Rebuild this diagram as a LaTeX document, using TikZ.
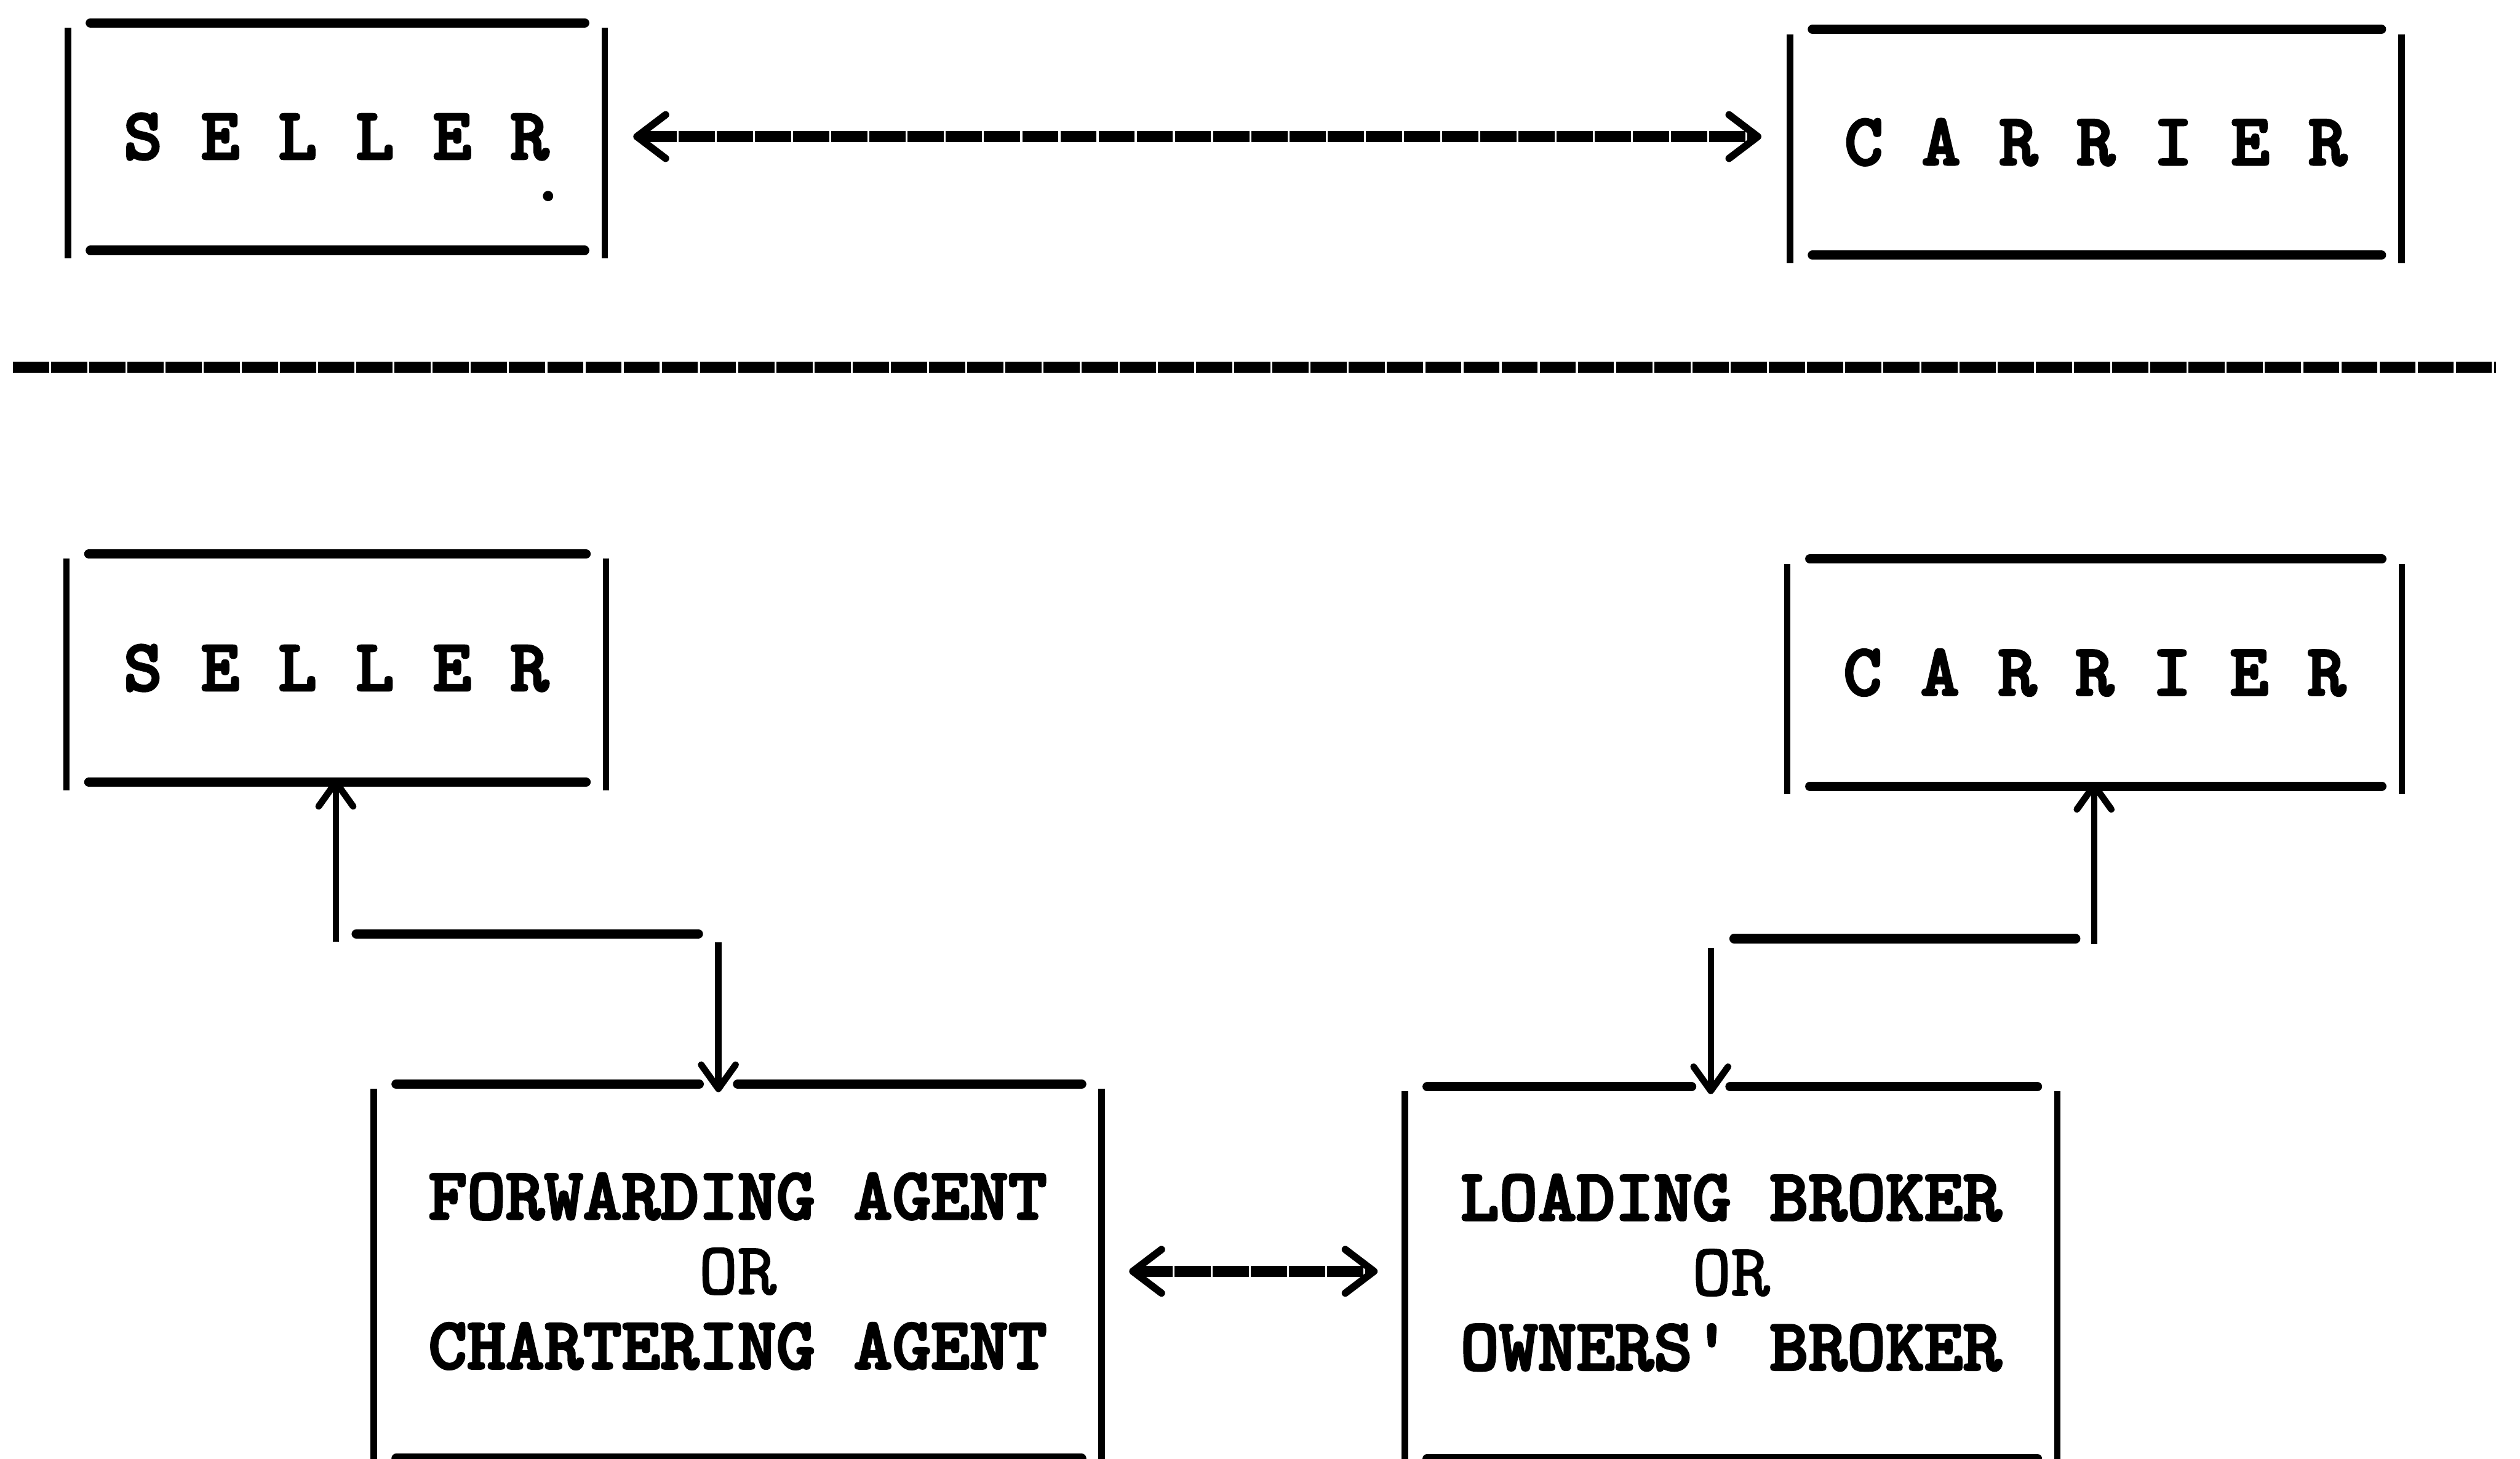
\documentclass[tikz,border=0pt]{standalone}
\usepackage{fontspec}
\newfontfamily\twb{lmmonolt10-bold.otf}[FakeBold=3]
\newfontfamily\twr{lmmono10-regular.otf}[FakeBold=2]
\usetikzlibrary{arrows.meta}
\def\pxu{0.028cm}
\newcommand\tframe[1]{%
  \draw[hbar] ([xshift=14*\pxu]#1.north west) -- ([xshift=-12.5*\pxu]#1.north east);
  \draw[hbar] ([xshift=14*\pxu]#1.south west) -- ([xshift=-12.5*\pxu]#1.south east);
  \draw[vbar] ([yshift=-3*\pxu]#1.north west) -- ([yshift=-5*\pxu]#1.south west);
  \draw[vbar] ([yshift=-3*\pxu]#1.north east) -- ([yshift=-5*\pxu]#1.south east);
}
\newcommand\tframegap[2]{%
  \draw[hbar] ([xshift=14*\pxu]#1.north west) -- ([xshift=-12*\pxu]#1.north -| #2);
  \draw[hbar] ([xshift=12*\pxu]#1.north -| #2) -- ([xshift=-12.5*\pxu]#1.north east);
  \draw[hbar] ([xshift=14*\pxu]#1.south west) -- ([xshift=-12.5*\pxu]#1.south east);
  \draw[vbar] ([yshift=-3*\pxu]#1.north west) -- ([yshift=-5*\pxu]#1.south west);
  \draw[vbar] ([yshift=-3*\pxu]#1.north east) -- ([yshift=-5*\pxu]#1.south east);
}
\begin{document}
\begin{tikzpicture}[x=0.028cm,y=-0.028cm,
  tbox/.style={draw=none, inner sep=0pt, align=center,
    font=\twb\fontsize{36.5pt}{37.1pt}\selectfont},
  hbar/.style={line width=4.7pt, line cap=round},
  vbar/.style={line width=3.2pt},
  hyph/.style={line width=5.6pt, dash pattern=on 0.63cm off 0.035cm},
  chev/.tip={Straight Barb[length=0.5cm, width=0.76cm, line width=3.6pt, round, sep=0.1cm]},
  vtip/.tip={Straight Barb[length=0.42cm, width=0.6cm, line width=3.3pt, round]},
  vconn/.style={line width=3.2pt, -vtip},
  hconn/.style={line width=4.7pt, line cap=round}]
\useasboundingbox (0,0) rectangle (1568,908);

% boxes
\node[tbox, minimum width={333.5*\pxu}, minimum height={141*\pxu}] (sellerA) at (209.25,85) {S E L L E R};
\node[tbox, minimum width={380*\pxu}, minimum height={140*\pxu}] (carrierA) at (1304,88.5) {C A R R I E R};
\node[tbox, minimum width={335.3*\pxu}, minimum height={141.5*\pxu}] (sellerB) at (209.2,415.75) {S E L L E R};
\node[tbox, minimum width={381.8*\pxu}, minimum height={141*\pxu}] (carrierB) at (1303.3,418.6) {C A R R I E R};
\node[tbox, minimum width={452.5*\pxu}, minimum height={232.5*\pxu}] (fwd) at (459,791.2)
  {FORWARDING AGENT\\\twr OR\\CHARTERING AGENT};
\node[tbox, minimum width={405.6*\pxu}, minimum height={231*\pxu}] (load) at (1077.1,792)
  {LOADING BROKER\\\twr OR\\OWNERS\textquotesingle\ BROKER};

% connector coordinates
\coordinate (sa1) at (209,586);
\coordinate (ha1) at (221.7,581.2);
\coordinate (ha2) at (434.5,581.2);
\coordinate (sa2) at (447,586.6);
\coordinate (ca1) at (1303,587.6);
\coordinate (hb1) at (1079,584.2);
\coordinate (hb2) at (1291.5,584.2);
\coordinate (ca2) at (1064.5,589.8);

\tframe{sellerA}
\tframe{carrierA}
\tframe{sellerB}
\tframe{carrierB}
\tframegap{fwd}{sa2}
\tframegap{load}{ca2}

% stray dot
\fill (341,122) circle[radius=0.09cm];

% top relation
\draw[hyph, chev-chev, shorten <=14.2*\pxu, shorten >=14.2*\pxu] (sellerA.east) -- (sellerA.east -| carrierA.west);

% separator
\draw[hyph] (8,228.6) -- (1553,228.6);

% seller side
\draw[vconn, shorten >=-2*\pxu] (sa1) -- (sellerB.south -| sa1);
\draw[hconn] (ha1) -- (ha2);
\draw[vconn, shorten >=-5*\pxu] (sa2) -- (fwd.north -| sa2);

% carrier side
\draw[vconn, shorten >=-2.7*\pxu] (ca1) -- (carrierB.south -| ca1);
\draw[hconn] (hb2) -- (hb1);
\draw[vconn, shorten >=-4.7*\pxu] (ca2) -- (load.north -| ca2);

% agent relation
\draw[hyph, chev-chev, shorten <=13.5*\pxu, shorten >=13.3*\pxu] (fwd.east) -- (fwd.east -| load.west);
\end{tikzpicture}
\end{document}
